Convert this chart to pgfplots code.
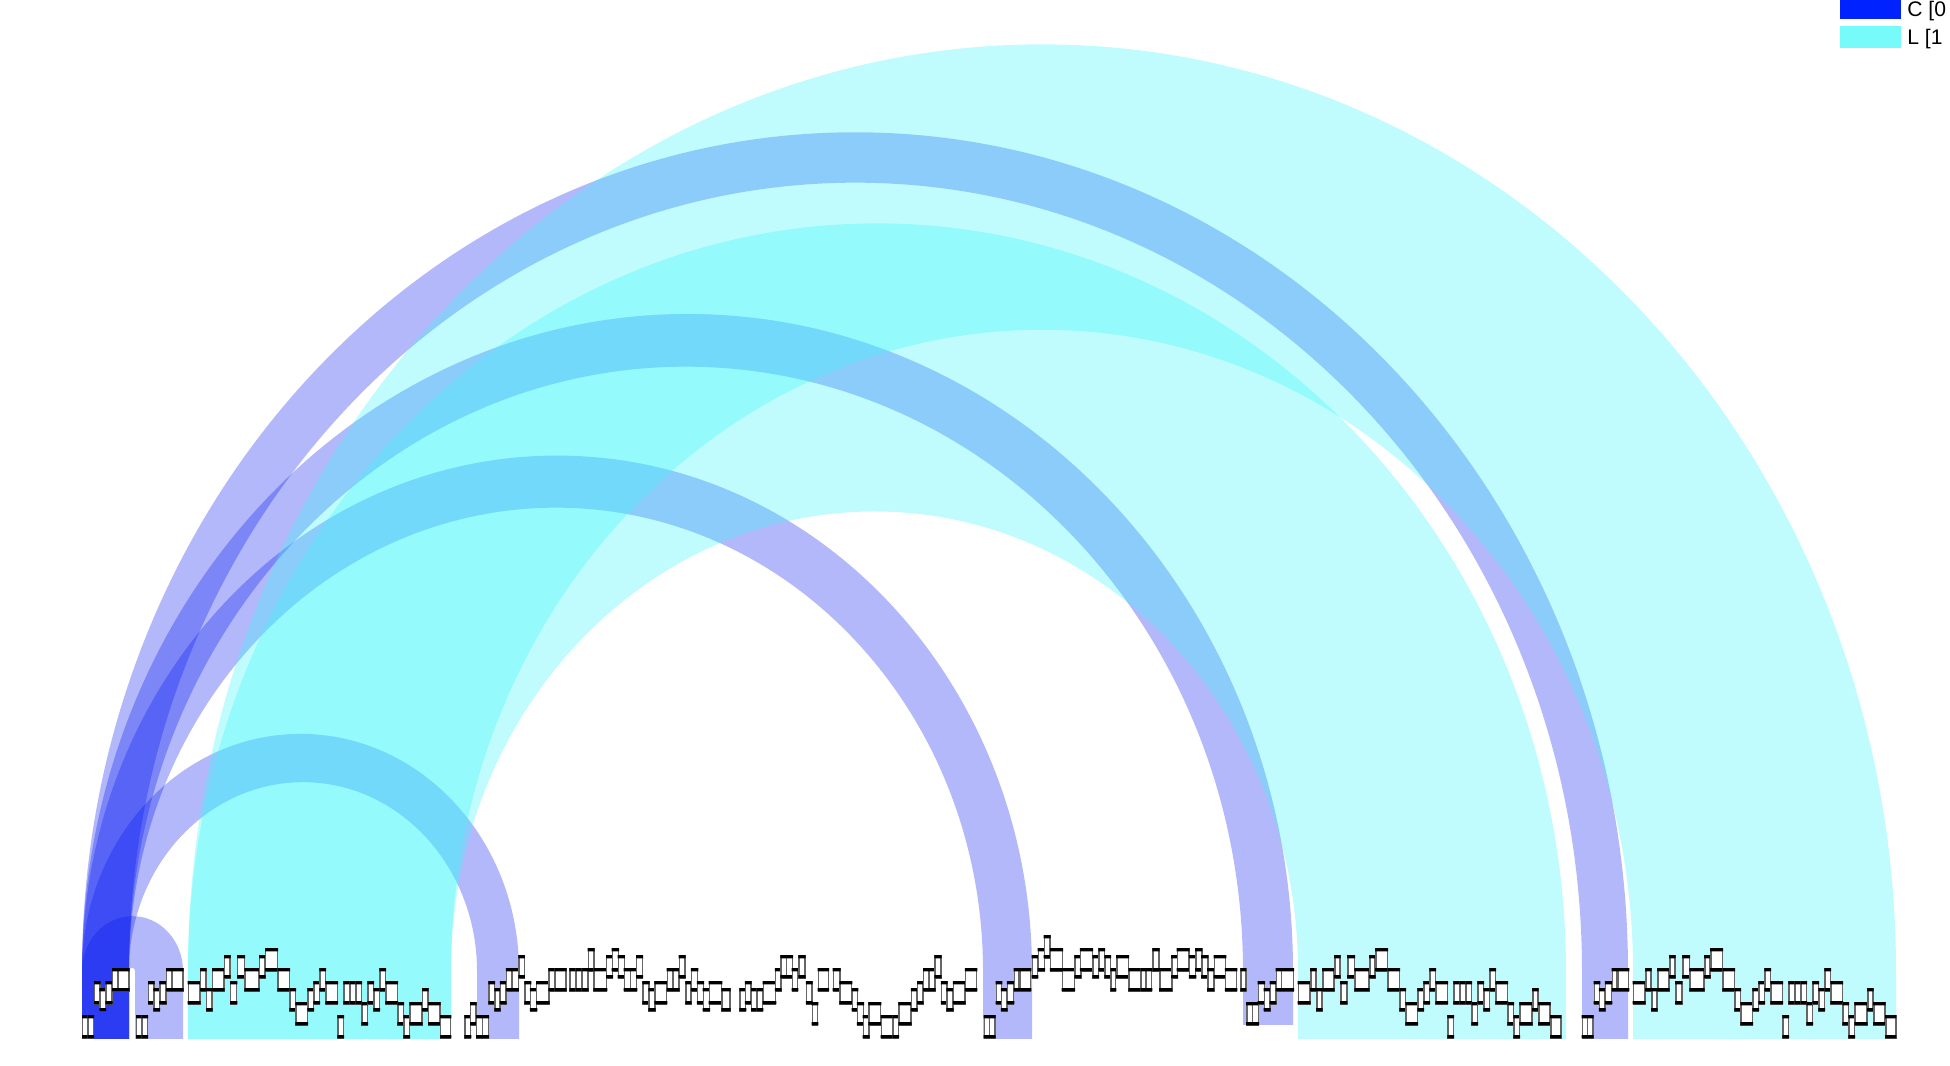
\documentclass[border=0pt]{standalone}
\usepackage{fontspec}
\setmainfont{Liberation Sans}
\usepackage{pgfplots}
\usepackage{pgfplotstable}
\pgfplotsset{compat=1.18}
\definecolor{cC}{RGB}{0,34,255}
\definecolor{cL}{RGB}{119,250,250}
\definecolor{aC}{RGB}{0,20,240}
\definecolor{aL}{RGB}{61,246,250}

\pgfdeclareplotmark{seg}{%
  \pgfpathrectangle{\pgfpoint{-0.5*\boxwd pt}{0pt}}{\pgfpoint{\boxwd pt}{6.4pt}}%
  \pgfsetfillcolor{white}%
  \pgfsetstrokecolor{black!60}%
  \pgfsetlinewidth{0.45pt}%
  \pgfusepath{fill,stroke}%
  \pgfsetfillcolor{black}%
  \pgfpathrectangle{\pgfpoint{-0.5*\boxwd pt-0.2pt}{-0.1pt}}{\pgfpoint{\boxwd pt+0.4pt}{0.9pt}}%
  \pgfpathrectangle{\pgfpoint{-0.5*\boxwd pt-0.2pt}{5.6pt}}{\pgfpoint{\boxwd pt+0.4pt}{0.9pt}}%
  \pgfusepath{fill}%
}

\pgfplotsset{segstyle/.style={scatter, only marks, mark=seg, forget plot,
  visualization depends on={(\thisrow{x2}-\thisrow{x1})*0.284528 \as \boxwd},
  scatter/@pre marker code/.code={\scope},
  scatter/@post marker code/.code={\endscope}}}

% repeated leg pattern (boxes under arc ends)
\pgfplotstableread{
x1 x2 y
82.7 88 1
88 93.3 1
94.7 100 35
100 105.3 28
106 112 35
112.7 117.3 48
118.3 129 48
}\legpat

% repeated pattern under the L blocks
\pgfplotstableread{
x1 x2 y
188.3 200 35
200.7 206 48
206.7 212 28
212.7 224 48
224.7 230 61
230.7 236.7 35
237.7 244.3 61
245 259 48
259.7 265 61
265.7 277.3 68
278 289.3 48
290 295.3 28
296 307.3 14
308 313.3 28
314 319.3 35
320 325.3 48
326 337.3 35
338 343.3 1
344 349.3 35
350 355.3 35
356 361.3 35
362 367.3 14
368 373.3 35
374 379.3 28
380 385.3 48
386 397.3 35
398 403.3 14
404 409.3 1
410 422 14
422.7 428 28
428.7 440 14
440.7 450.7 1
}\cyanpat

% remaining boxes
\pgfplotstableread{
x1 x2 y
465 470.7 1
470.7 476 14
476.7 482.3 1
482.3 488.3 1
489 494.3 35
495 500 28
500.7 506 35
506.7 511.7 48
512.3 518.3 48
519 524.3 61
525 530.7 35
530.7 536.7 28
536.7 549 35
549 555 48
555 566 48
570 576 48
576 582 48
582 588 48
588.3 594 68
594 606.7 48
606.7 612.3 61
612.3 618.3 68
618.3 624.3 61
624.3 630.3 48
630.3 636.7 48
636.7 642.3 61
643 649 35
649 655 28
655 666.7 35
667.3 672.7 48
673.3 679 48
679.3 685 61
686 691 35
691.7 697.7 48
697.7 703.3 35
703.3 709.3 28
709.3 721.7 35
722 730 28
740 745.7 28
745.7 751 35
751.7 757 28
757 762.7 28
763.3 775.7 35
775.7 781 48
781 786.7 61
786.7 792.3 61
792.3 797.7 48
799 805 61
806.7 812 35
812.3 817.7 14
818.3 828.3 48
833.3 840 48
840 851.7 35
852.3 857.7 28
857.7 863.3 14
863.3 869 1
869 880.7 14
881.3 892.3 1
893 898.3 1
899 911 14
911.7 917 28
917.7 923 35
923.7 929 48
929.7 935 48
935 941 61
941.7 947 35
947 953 28
953.7 965 35
965.7 976.7 48
1032.3 1037.7 61
1038.3 1044.3 68
1044.3 1050 81
1050.7 1062.3 68
1062.3 1074.3 48
1075 1080.7 61
1080.7 1092.3 68
1093 1098.3 61
1099 1104.3 68
1105 1110.3 61
1111 1115.7 48
1116.7 1128.3 61
1129 1140.7 48
1141 1145.7 48
1146.3 1151.7 48
1153 1159 68
1159.7 1171.7 48
1171.7 1177.3 61
1177.3 1189 68
1189.7 1195.7 61
1195.7 1201.7 68
1201.7 1207.7 61
1207.7 1213.7 48
1214.3 1225.7 61
1225.7 1236.7 48
1241 1245.7 48
1246.7 1252.3 14
1252.3 1258.3 14
1258.3 1264.3 35
1264.3 1270 28
1270.3 1275.7 35
1276.3 1281.7 48
1281.7 1293.3 48
}\freepat

\begin{document}
\begin{tikzpicture}
\begin{axis}[
  at={(0,0)}, anchor=south west,
  width=195mm, height=106.6mm, scale only axis,
  xmin=0, xmax=1950, ymin=-27, ymax=1039,
  hide axis,
  legend style={at={(axis cs:1840,1041)}, anchor=north west,
    draw=none, fill=none, inner sep=0pt, outer sep=0pt,
    font=\fontsize{6pt}{7pt}\selectfont,
    row sep=0.7mm, column sep=0.6mm,
    nodes={inner sep=0pt, text height=1.5mm, text depth=0pt}},
  legend cell align=left,
]
\coordinate (bl) at (rel axis cs:0,0);
\coordinate (tr) at (rel axis cs:1,1);

% C arcs
\fill[aC, fill opacity=0.3] (82,0) -- (82,68) arc[start angle=180, end angle=0, x radius=77.3mm, y radius=83.87mm]
  -- (1628,0) -- (1582,0) -- (1582,68) arc[start angle=0, end angle=180, x radius=72.65mm, y radius=78.83mm] -- (129,0) -- cycle;
\fill[aC, fill opacity=0.3] (82,0) -- (82,68) arc[start angle=180, end angle=0, x radius=60.55mm, y radius=65.70mm]
  -- (1293,14) -- (1243,14) -- (1243,68) arc[start angle=0, end angle=180, x radius=55.7mm, y radius=60.43mm] -- (129,0) -- cycle;
\fill[aC, fill opacity=0.3] (82,0) -- (82,68) arc[start angle=180, end angle=0, x radius=47.5mm, y radius=51.54mm]
  -- (1032,0) -- (983,0) -- (983,68) arc[start angle=0, end angle=180, x radius=42.7mm, y radius=46.33mm] -- (129,0) -- cycle;
\fill[aC, fill opacity=0.3] (82,0) -- (82,68) arc[start angle=180, end angle=0, x radius=21.85mm, y radius=23.71mm]
  -- (519,0) -- (477,0) -- (477,68) arc[start angle=0, end angle=180, x radius=17.4mm, y radius=18.88mm] -- (129,0) -- cycle;
\fill[aC, fill opacity=0.3] (82,0) -- (82,68) arc[start angle=180, end angle=0, x radius=5.05mm, y radius=5.48mm]
  -- (183,0) -- (135,0) -- (135,68) arc[start angle=0, end angle=180, x radius=0.3mm, y radius=0.33mm] -- (129,0) -- cycle;
% L arcs
\fill[aL, fill opacity=0.325] (188,0) -- (188,68) arc[start angle=180, end angle=0, x radius=85.4mm, y radius=92.66mm]
  -- (1896,0) -- (1633,0) -- (1633,68) arc[start angle=0, end angle=180, x radius=59.1mm, y radius=64.12mm] -- (451,0) -- cycle;
\fill[aL, fill opacity=0.325] (188,0) -- (188,68) arc[start angle=180, end angle=0, x radius=68.9mm, y radius=74.76mm]
  -- (1566,0) -- (1298,0) -- (1298,68) arc[start angle=0, end angle=180, x radius=42.35mm, y radius=45.95mm] -- (451,0) -- cycle;

\addlegendimage{legend image code/.code={\fill[cC] (0mm,-1mm) rectangle (6mm,1mm);}}
\addlegendentry{C [0}
\addlegendimage{legend image code/.code={\fill[cL] (0mm,-1mm) rectangle (6mm,1mm);}}
\addlegendentry{L [1}

% structure boxes
\pgfplotsinvokeforeach{0,54,901.6,1499.6}{
  \addplot[segstyle] table[x expr={(\thisrow{x1}+\thisrow{x2})/2+#1}, y=y] {\legpat};
}
\pgfplotsinvokeforeach{0,1110,1445}{
  \addplot[segstyle] table[x expr={(\thisrow{x1}+\thisrow{x2})/2+#1}, y=y] {\cyanpat};
}
\addplot[segstyle] table[x expr={(\thisrow{x1}+\thisrow{x2})/2}, y=y] {\freepat};
\end{axis}
\pgfresetboundingbox
\useasboundingbox (bl) rectangle (tr);
\end{tikzpicture}
\end{document}
